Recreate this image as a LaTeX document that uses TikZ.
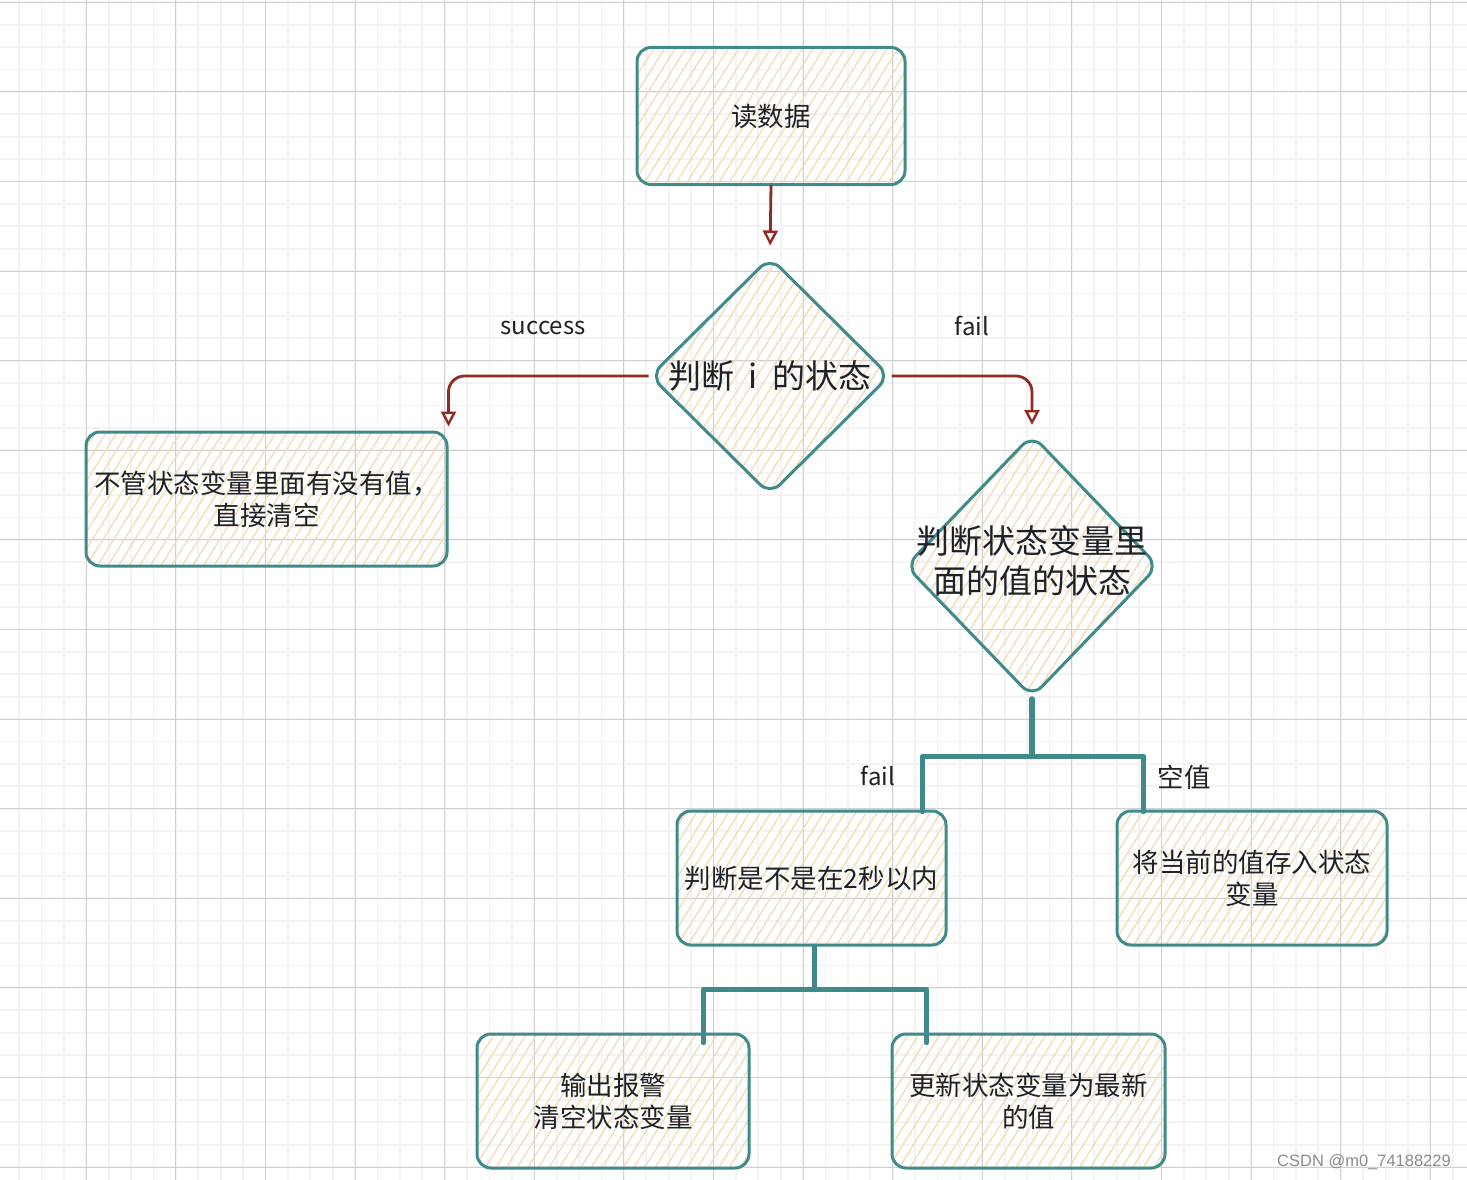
\documentclass[tikz,border=0pt]{standalone}
\usepackage{fontspec}
\newfontfamily\cjk{Noto Sans CJK SC}
\newfontfamily\wm{Liberation Sans}
\usetikzlibrary{shapes.geometric,arrows.meta,patterns.meta}
\definecolor{teal2}{RGB}{64,138,138}
\definecolor{arrred}{RGB}{145,42,34}
\definecolor{hatch}{RGB}{244,219,180}
\definecolor{ink}{RGB}{30,34,38}
\definecolor{gmin}{RGB}{243,243,243}
\definecolor{gmaj}{RGB}{208,208,208}
\begin{document}
\begin{tikzpicture}[x=1pt,y=-1pt,
  hatchfill/.style={pattern={Lines[angle=58,distance=9pt,line width=1.3pt]},pattern color=hatch},
  stepbox/.style={draw=teal2,line width=3pt,rounded corners=14pt,hatchfill,inner sep=0pt,align=center,text=ink,font=\cjk\fontsize{26.5}{32}\selectfont},
  decision/.style={diamond,draw=teal2,line width=3pt,rounded corners=14pt,hatchfill,inner sep=0pt},
  dtext/.style={text=ink,align=center,font=\cjk\fontsize{33}{40}\selectfont},
  arr/.style={draw=arrred,line width=2.8pt,rounded corners=16pt,-{Triangle[open,length=15pt,width=15pt,line width=2.4pt]}},
  tree/.style={draw=teal2,line width=5.5pt,line cap=round,line join=round},
  lbl/.style={text=ink,font=\cjk\fontsize{24}{28}\selectfont},
  gridminor/.style={draw=gmin,line width=1.8pt},
  gridmajor/.style={draw=gmaj,line width=1pt}]
\fill[white] (0,0) rectangle (1467,1180);
\useasboundingbox (0,0) rectangle (1467,1180);
% grid
\foreach \i in {0,...,66} \draw[gridminor] ({-3.3+22.4*\i},0) -- ++(0,1180);
\foreach \i in {0,...,52} \draw[gridminor] (0,{2.3+22.4*\i}) -- ++(1467,0);
\foreach \i in {0,...,15} \draw[gridmajor] ({86.3+89.6*\i},0) -- ++(0,1180);
\foreach \i in {0,...,13} \draw[gridmajor] (0,{2.3+89.6*\i}) -- ++(1467,0);

% nodes
\node[stepbox,minimum width=268pt,minimum height=137pt] (read) at (771,116) {读数据};
\node[decision,minimum width=240pt,minimum height=238pt] (d1) at (770,376) {};
\node[dtext] (d1t) at (d1.center) {判断\hspace{0.45em}i\hspace{0.45em}的状态};
\node[stepbox,minimum width=361pt,minimum height=134pt] (L) at (266.5,499) {不管状态变量里面有没有值，\\直接清空};
\node[decision,minimum width=253pt,minimum height=263pt] (d2) at (1032,566) {};
\node[dtext] (d2t) at (1032,561) {判断状态变量里\\面的值的状态};
\node[stepbox,minimum width=269pt,minimum height=134pt] (B2) at (811.5,878) {判断是不是在2秒以内};
\node[stepbox,minimum width=270pt,minimum height=134pt] (B3) at (1252,878) {将当前的值存入状态\\变量};
\node[stepbox,minimum width=272pt,minimum height=134pt] (A) at (613,1101) {输出报警\\清空状态变量};
\node[stepbox,minimum width=273pt,minimum height=134pt] (U) at (1028.5,1101) {更新状态变量为最新\\的值};

% arrows
\draw[arr,shorten >=10pt] (read.south) -- (d1.north);
\draw[arr,shorten >=4pt] (d1.west) -| (L.north east);
\draw[arr,shorten >=8pt] (d1.east) -| (d2.north);
\node[lbl] (ls) at (543,328) {success};
\node[lbl] (lf) at (972,326) {fail};

% tree connectors
\draw[tree] (d2.south) -- ++(0,57.5) coordinate (j1);
\draw[tree] ([xshift=-25pt,yshift=-2pt]B2.north east) |- (j1) -| ([xshift=28pt,yshift=-2pt]B3.north west);
\draw[tree] ([xshift=3pt]B2.south) -- ++(0,43) coordinate (j2);
\draw[tree] ([xshift=-47pt,yshift=-10pt]A.north east) |- (j2) -| ([xshift=36pt,yshift=-10pt]U.north west);
\node[lbl] (lf2) at (878,776) {fail};
\node[lbl,font=\cjk\fontsize{26.5}{30}\selectfont] (lk) at (1184,777) {空值};

\node[text=black!45,font=\wm\fontsize{16.5}{20}\selectfont] (wmk) at (1364,1162) {CSDN @m0\_74188229};
\end{tikzpicture}
\end{document}
